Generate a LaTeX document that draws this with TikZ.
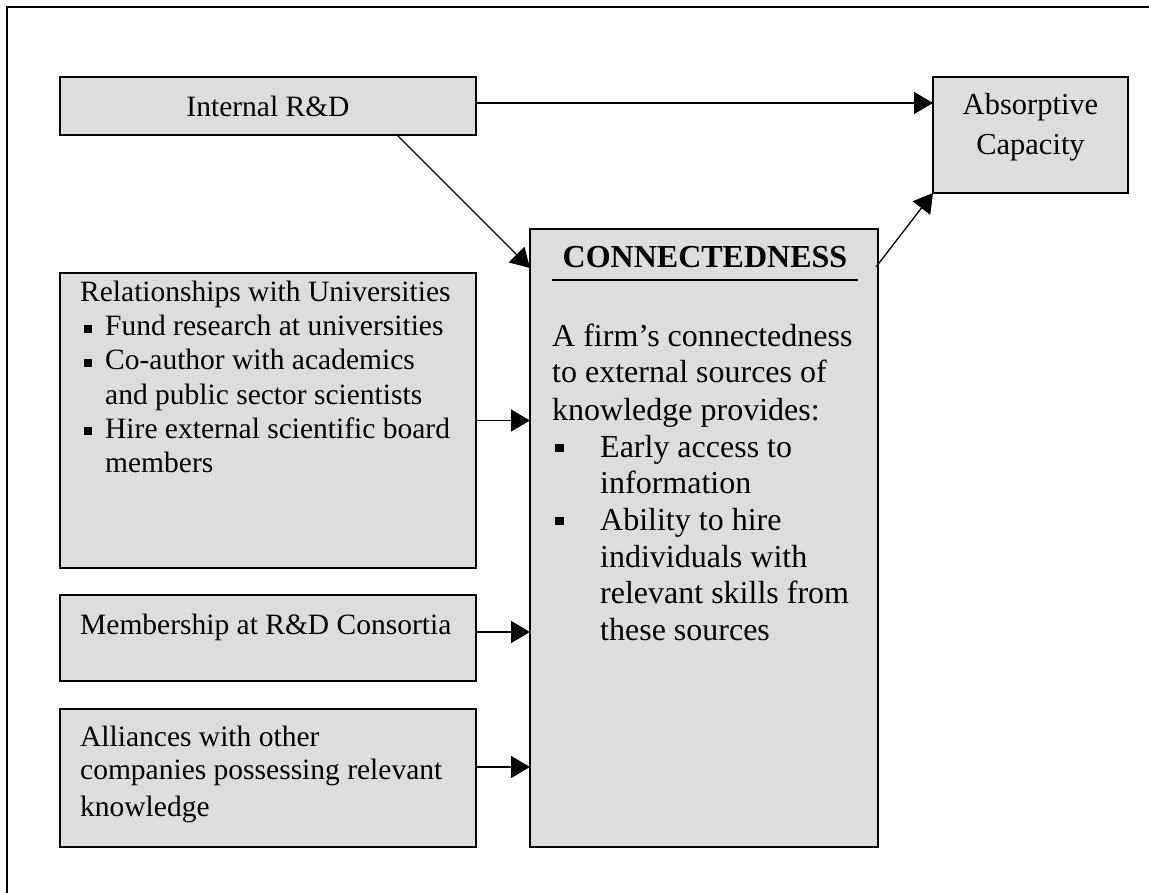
\documentclass[tikz,border=0pt]{standalone}
\usepackage{fontspec}
\setmainfont{Liberation Serif}
\usetikzlibrary{arrows.meta,calc}
\definecolor{boxgray}{RGB}{221,221,221}
\newcommand\lbul{\makebox[25pt][l]{\hspace{4pt}\rule[3pt]{8pt}{8pt}}}
\newcommand\cbul{\makebox[48pt][l]{\hspace{3pt}\rule[5pt]{8.5pt}{8.5pt}}}
\begin{document}
\begin{tikzpicture}[x=1pt,y=-1pt,
  box/.style={draw,line width=1.6pt,fill=boxgray,inner sep=0pt,outer sep=0pt},
  lt/.style={anchor=base west,inner sep=0pt,font=\fontsize{29.5}{34}\selectfont},
  ct/.style={anchor=base west,inner sep=0pt,font=\fontsize{32}{37}\selectfont},
  abst/.style={anchor=base,inner sep=0pt,font=\fontsize{30.5}{37}\selectfont},
  arr/.style={line width=1.3pt,-{Triangle[length=19pt,width=22pt]}}]
\useasboundingbox (0,0) rectangle (1149,893);
% outer frame
\draw[line width=1.6pt] (7,893) -- (7,7) -- (1149,7);
% boxes
\node[box,minimum width=416pt,minimum height=58pt,font=\fontsize{29.5}{34}\selectfont] (rd) at (268,106) {Internal R\&D};
\node[box,minimum width=195pt,minimum height=116pt] (abs) at (1030.5,135) {};
\node[box,minimum width=416pt,minimum height=295pt] (rel) at (268,420.5) {};
\node[box,minimum width=416pt,minimum height=86pt] (mem) at (268,638) {};
\node[box,minimum width=416pt,minimum height=138pt] (all) at (268,778) {};
\node[box,minimum width=348pt,minimum height=618pt] (con) at (704,538) {};
% absorptive capacity text
\node[abst] (abs1) at (1030.5,115) {Absorptive};
\node[abst] (abs2) at (1030.5,155) {Capacity};
% relationships text
\node[lt] (rel1) at (80,302) {Relationships with Universities};
\node[lt] (rel2) at (80,336) {\lbul Fund research at universities};
\node[lt] (rel3) at (80,370) {\lbul Co-author with academics};
\node[lt] (rel4) at (105,404) {and public sector scientists};
\node[lt] (rel5) at (80,438) {\lbul Hire external scientific board};
\node[lt] (rel6) at (105,472) {members};
% membership
\node[lt] (mem1) at (80,634) {Membership at R\&D Consortia};
% alliances
\node[lt] (all1) at (80,746) {Alliances with other};
\node[lt] (all2) at (80,779) {companies possessing relevant};
\node[lt] (all3) at (80,816) {knowledge};
% connectedness
\node[anchor=base,inner sep=0pt,font=\bfseries\fontsize{32}{37}\selectfont] (ctitle) at (705,268) {CONNECTEDNESS};
\draw[line width=1.5pt] (552,280) -- (858,280);
\node[ct] (c1) at (552,347) {A firm’s connectedness};
\node[ct] (c2) at (552,383) {to external sources of};
\node[ct] (c3) at (552,420) {knowledge provides:};
\node[ct] (c4) at (552,457) {\cbul Early access to};
\node[ct] (c5) at (600,493) {information};
\node[ct] (c6) at (552,530) {\cbul Ability to hire};
\node[ct] (c7) at (600,567) {individuals with};
\node[ct] (c8) at (600,603) {relevant skills from};
\node[ct] (c9) at (600,640) {these sources};
% connectors
\draw[arr] ($(rd.east)+(0,-3)$) -- ($(rd.east -| abs.west)+(0,-3)$);
\draw[arr] ($(rd.south east)+(-80,-1)$) -- ($(con.north west)+(0,39)$);
\draw[arr] ($(con.north east)+(-2,38)$) -- (abs.south west);
\draw[arr] (rel.east) -- (rel.east -| con.west);
\draw[arr] ($(mem.east)+(0,-6)$) -- ($(mem.east -| con.west)+(0,-6)$);
\draw[arr] ($(all.east)+(0,-11)$) -- ($(all.east -| con.west)+(0,-11)$);
\end{tikzpicture}
\end{document}
